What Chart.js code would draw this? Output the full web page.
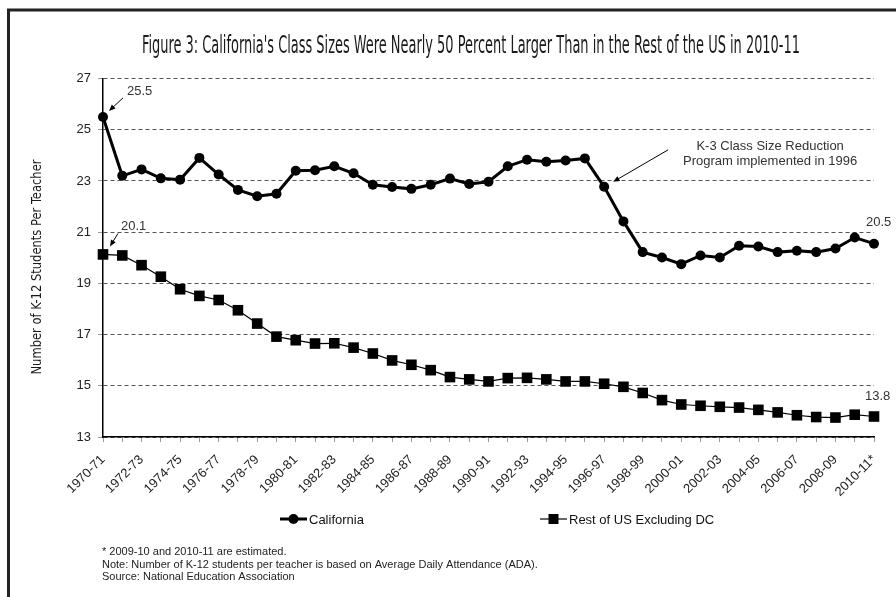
<!DOCTYPE html>
<html>
<head>
<meta charset="utf-8">
<script src="https://cdn.jsdelivr.net/npm/chart.js@4.4.1/dist/chart.umd.min.js"></script>
<style>
  html, body { margin: 0; padding: 0; background: #fff; }
  canvas { display: block; }
</style>
</head>
<body>
<canvas id="classSizeChart" width="896" height="597"></canvas>
<script>
const years = [
  '1970-71', '1971-72', '1972-73', '1973-74', '1974-75', '1975-76', '1976-77', '1977-78', '1978-79', '1979-80',
  '1980-81', '1981-82', '1982-83', '1983-84', '1984-85', '1985-86', '1986-87', '1987-88', '1988-89', '1989-90',
  '1990-91', '1991-92', '1992-93', '1993-94', '1994-95', '1995-96', '1996-97', '1997-98', '1998-99', '1999-00',
  '2000-01', '2001-02', '2002-03', '2003-04', '2004-05', '2005-06', '2006-07', '2007-08', '2008-09', '2009-10',
  '2010-11*'
];

const california = [
  25.5, 23.2, 23.45, 23.1, 23.05, 23.9, 23.25, 22.65, 22.4, 22.5,
  23.4, 23.42, 23.57, 23.3, 22.85, 22.76, 22.69, 22.85, 23.09, 22.88,
  22.97, 23.57, 23.83, 23.75, 23.8, 23.88, 22.77, 21.42, 20.22, 20.01,
  19.75, 20.09, 20.01, 20.47, 20.44, 20.22, 20.27, 20.22, 20.36, 20.79,
  20.55
];

const restOfUS = [
  20.13, 20.09, 19.71, 19.26, 18.77, 18.51, 18.35, 17.95, 17.43, 16.92,
  16.78, 16.65, 16.66, 16.49, 16.26, 15.99, 15.82, 15.61, 15.34, 15.25,
  15.17, 15.30, 15.31, 15.25, 15.17, 15.17, 15.08, 14.96, 14.72, 14.44,
  14.27, 14.22, 14.18, 14.15, 14.06, 13.96, 13.85, 13.78, 13.76, 13.87,
  13.8
];

const yTickValues = [13, 15, 17, 19, 21, 23, 25, 27];

// value labels printed on the chart (first and last point of each series)
const californiaCallouts = ['25.5', '20.5'];
const restOfUSCallouts = ['20.1', '13.8'];

const titleText = "Figure 3: California's Class Sizes Were Nearly 50 Percent Larger Than in the Rest of the US in 2010-11";
const yAxisTitle = 'Number of K-12 Students Per Teacher';
const footnotes = [
  '* 2009-10 and 2010-11 are estimated.',
  'Note: Number of K-12 students per teacher is based on Average Daily Attendance (ADA).',
  'Source: National Education Association'
];
const reformNote = ['K-3 Class Size Reduction', 'Program implemented in 1996'];
const reformYear = '1996-97';

const NARROW = '"Liberation Sans Narrow", "DejaVu Sans Condensed", "Arial Narrow", sans-serif';
const SANS = '"Liberation Sans", Arial, Helvetica, sans-serif';

// draws text squeezed/stretched to a given width, centred on x,y
function fitText(ctx, text, x, y, width, font, vertical) {
  ctx.save();
  ctx.font = font;
  const w = ctx.measureText(text).width;
  ctx.translate(x, y);
  if (vertical) ctx.rotate(-Math.PI / 2);
  ctx.scale(width / w, 1);
  ctx.textAlign = 'center';
  ctx.textBaseline = vertical ? 'middle' : 'alphabetic';
  ctx.fillText(text, 0, 0);
  ctx.restore();
}

function arrow(ctx, x1, y1, x2, y2) {
  const a = Math.atan2(y2 - y1, x2 - x1);
  ctx.save();
  ctx.strokeStyle = '#000';
  ctx.fillStyle = '#000';
  ctx.lineWidth = 1;
  ctx.beginPath();
  ctx.moveTo(x1, y1);
  ctx.lineTo(x2 - 4 * Math.cos(a), y2 - 4 * Math.sin(a));
  ctx.stroke();
  ctx.beginPath();
  ctx.moveTo(x2, y2);
  ctx.lineTo(x2 - 7 * Math.cos(a - 0.4), y2 - 7 * Math.sin(a - 0.4));
  ctx.lineTo(x2 - 7 * Math.cos(a + 0.4), y2 - 7 * Math.sin(a + 0.4));
  ctx.closePath();
  ctx.fill();
  ctx.restore();
}

function legendItem(ctx, x, y, ds) {
  ctx.save();
  ctx.strokeStyle = ds.borderColor;
  ctx.fillStyle = ds.pointBackgroundColor;
  ctx.lineWidth = ds.borderWidth;
  ctx.beginPath();
  ctx.moveTo(x, y);
  ctx.lineTo(x + 27, y);
  ctx.stroke();
  if (ds.pointStyle === 'rect') {
    ctx.fillRect(x + 8.5, y - 5, 10, 10);
  } else {
    ctx.beginPath();
    ctx.arc(x + 13.5, y, 5, 0, Math.PI * 2);
    ctx.fill();
  }
  ctx.fillStyle = '#111';
  ctx.font = '13px ' + SANS;
  ctx.textAlign = 'left';
  ctx.textBaseline = 'middle';
  ctx.fillText(ds.label, x + 29, y + 1);
  ctx.restore();
}

const decorations = {
  id: 'decorations',
  afterDraw(chart) {
    const ctx = chart.ctx;
    const xs = chart.scales.x;
    const ys = chart.scales.y;
    const ca = chart.data.datasets[0];
    const us = chart.data.datasets[1];

    // frame
    ctx.save();
    ctx.strokeStyle = '#222';
    ctx.lineWidth = 3;
    ctx.beginPath();
    ctx.moveTo(8.5, 600);
    ctx.lineTo(8.5, 10);
    ctx.lineTo(900, 10);
    ctx.stroke();
    ctx.restore();

    ctx.fillStyle = '#1a1a1a';
    fitText(ctx, titleText, 471, 53, 658, '25px ' + NARROW, false);
    fitText(ctx, yAxisTitle, 37, 267, 215, '14px ' + NARROW, true);

    // callouts
    ctx.save();
    ctx.fillStyle = '#333';
    ctx.font = '13px ' + SANS;
    ctx.textAlign = 'left';
    ctx.textBaseline = 'middle';
    const last = years.length - 1;

    let px = xs.getPixelForValue(0), py = ys.getPixelForValue(ca.data[0]);
    ctx.fillText(californiaCallouts[0], px + 24, py - 25);
    arrow(ctx, px + 20, py - 19, px + 6, py - 6);

    py = ys.getPixelForValue(us.data[0]);
    ctx.fillText(restOfUSCallouts[0], px + 18, py - 28);
    arrow(ctx, px + 15, py - 21, px + 7, py - 8);

    px = xs.getPixelForValue(last);
    py = ys.getPixelForValue(ca.data[last]);
    ctx.fillText(californiaCallouts[1], px - 8, py - 21);
    py = ys.getPixelForValue(us.data[last]);
    ctx.fillText(restOfUSCallouts[1], px - 9, py - 20);

    const ri = years.indexOf(reformYear);
    px = xs.getPixelForValue(ri);
    py = ys.getPixelForValue(ca.data[ri]);
    ctx.textAlign = 'center';
    ctx.fillText(reformNote[0], px + 166, py - 40);
    ctx.fillText(reformNote[1], px + 166, py - 25);
    arrow(ctx, px + 64, py - 37, px + 9, py - 5);
    ctx.restore();

    legendItem(ctx, 280, 519, ca);
    legendItem(ctx, 540, 519, us);

    ctx.save();
    ctx.fillStyle = '#222';
    ctx.font = '11px ' + SANS;
    ctx.textAlign = 'left';
    ctx.textBaseline = 'middle';
    footnotes.forEach((t, i) => ctx.fillText(t, 102, 552 + i * 12.5));
    ctx.restore();
  }
};

new Chart(document.getElementById('classSizeChart'), {
  type: 'line',
  data: {
    labels: years,
    datasets: [
      {
        label: 'California',
        data: california,
        borderColor: '#000',
        backgroundColor: '#000',
        pointBackgroundColor: '#000',
        pointBorderColor: '#000',
        borderWidth: 3,
        pointStyle: 'circle',
        pointRadius: 5,
        pointBorderWidth: 0,
        tension: 0,
        clip: false
      },
      {
        label: 'Rest of US Excluding DC',
        data: restOfUS,
        borderColor: '#000',
        backgroundColor: '#000',
        pointBackgroundColor: '#000',
        pointBorderColor: '#000',
        borderWidth: 1.2,
        pointStyle: 'rect',
        pointRadius: 7.5,
        pointBorderWidth: 0,
        tension: 0,
        clip: false
      }
    ]
  },
  options: {
    responsive: false,
    animation: false,
    layout: { padding: { left: 24, right: 22, top: 78.5, bottom: 100 } },
    plugins: {
      legend: { display: false },
      tooltip: { enabled: false },
      title: { display: false }
    },
    scales: {
      x: {
        type: 'category',
        offset: false,
        afterFit: (s) => { s.height = 60; },
        grid: { display: true, drawOnChartArea: false, drawTicks: true, tickLength: 5, tickColor: '#999', tickWidth: 1 },
        border: { display: true, color: '#000', width: 1.5 },
        ticks: {
          autoSkip: false,
          maxRotation: 45,
          minRotation: 45,
          padding: 10,
          color: '#222',
          font: { family: SANS, size: 13 },
          callback: function (value, index) {
            return index % 2 === 0 ? this.getLabelForValue(value) : '';
          }
        }
      },
      y: {
        min: yTickValues[0],
        max: yTickValues[yTickValues.length - 1],
        afterFit: (s) => { s.width = 79; },
        afterBuildTicks: (s) => { s.ticks = yTickValues.map(v => ({ value: v })); },
        grid: { color: '#555', lineWidth: 1, drawTicks: true, tickLength: 5, tickColor: '#999' },
        border: { display: true, color: '#000', width: 1.5, dash: [4, 3] },
        ticks: {
          padding: 7,
          color: '#222',
          font: { family: SANS, size: 13 }
        }
      }
    }
  },
  plugins: [decorations]
});
</script>
</body>
</html>
